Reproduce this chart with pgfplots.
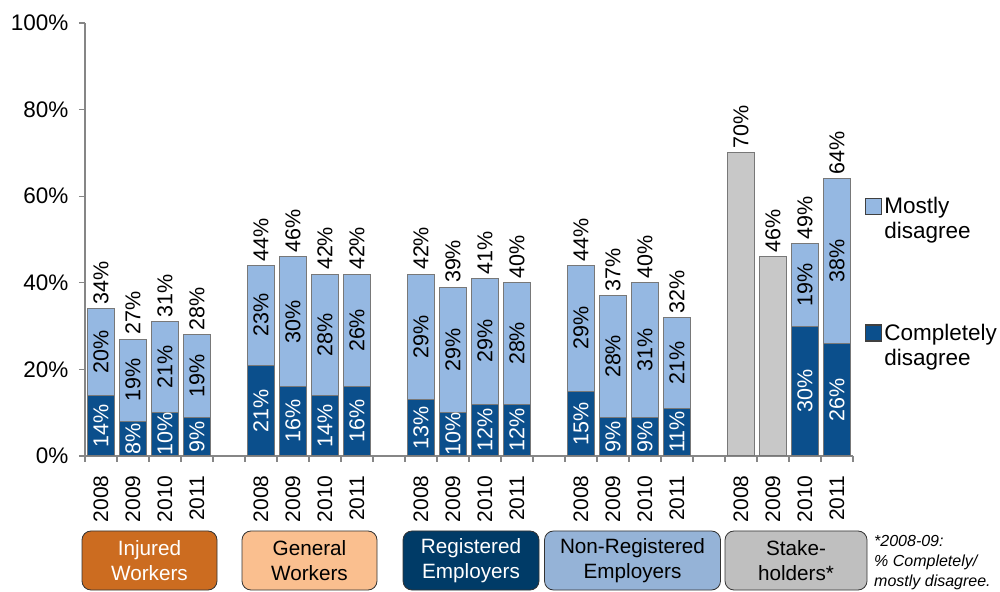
\documentclass[border=0pt]{standalone}
\usepackage{fontspec}
\setmainfont{Liberation Sans}
\usepackage{pgfplots}
\usepackage{pgfplotstable}
\pgfplotsset{compat=1.18}
\definecolor{darkbar}{RGB}{11,79,140}
\definecolor{lightbar}{RGB}{149,184,226}
\definecolor{graybar}{RGB}{200,200,200}
\definecolor{bordergray}{RGB}{120,120,120}
\definecolor{axisgray}{RGB}{134,134,134}
\definecolor{injured}{RGB}{204,108,32}
\definecolor{general}{RGB}{250,191,143}
\definecolor{registered}{RGB}{0,59,103}
\definecolor{nonreg}{RGB}{149,179,215}
\definecolor{stake}{RGB}{191,191,191}
\newcommand{\bigfont}{\fontsize{21}{26}\selectfont}
\newcommand{\tickfont}{\fontsize{22.5}{26}\selectfont}
\newcommand{\legfont}{\fontsize{22.5}{25}\selectfont}
\newcommand{\labfont}{\fontsize{21.5}{24}\selectfont}
\newcommand{\boxfont}{\fontsize{20.7}{24.5}\selectfont}
\newcommand{\notefont}{\fontsize{16}{20}\selectfont\itshape}

\pgfplotstableread{
x dark light
0 14 20
1 8 19
2 10 21
3 9 19
5 21 23
6 16 30
7 14 28
8 16 26
10 13 29
11 10 29
12 12 29
13 12 28
15 15 29
16 9 28
17 9 31
18 11 21
22 30 19
23 26 38
}\groups

\pgfplotstableread{
x total
20 70
21 46
}\stake

\begin{document}
\begin{tikzpicture}[x=1pt,y=1pt]
\useasboundingbox (0,0) rectangle (1000,591);
\begin{axis}[
  at={(85pt,135pt)}, anchor=south west,
  scale only axis, width=768pt, height=433pt,
  xmin=-0.5, xmax=23.5, ymin=0, ymax=100,
  clip=false,
  axis x line*=bottom, axis y line*=left,
  axis line style={draw=axisgray, line width=1.5pt, -},
  /pgf/number format/assume math mode=true,
  tick align=outside,
  major tick length=6pt, minor tick length=6pt,
  ytick={0,20,...,100},
  yticklabel={\pgfmathprintnumber{\tick}\%},
  y tick label style={font=\tickfont, xshift=-7pt},
  ytick style={draw=axisgray, line width=1.2pt},
  xtick={0,1,2,3,5,6,7,8,10,11,12,13,15,16,17,18,20,21,22,23},
  xticklabels={2008,2009,2010,2011,2008,2009,2010,2011,2008,2009,2010,2011,2008,2009,2010,2011,2008,2009,2010,2011},
  major x tick style={draw=none},
  minor xtick={-0.5,0.5,...,23.5},
  minor x tick style={draw=axisgray, line width=1.2pt},
  x tick label style={rotate=90, anchor=east, font=\bigfont, xshift=-10pt},
  legend style={at={(axis description cs:1,0.6)}, anchor=north west, draw=none, fill=none,
    xshift=12pt, yshift=2pt, row sep=91pt, font=\legfont, inner sep=0pt},
  legend cell align=left,
]
\addplot[ybar, bar width=0.85, bar shift=0pt, fill=lightbar, draw=bordergray, line width=1pt,
  legend image code/.code={\draw[fill=lightbar, draw=black!75, line width=1.2pt] (0pt,-2pt) rectangle (16pt,14pt);}]
  table[x=x, y expr=\thisrow{dark}+\thisrow{light}] {\groups};
\addlegendentry{\begin{tabular}{@{}l@{}}Mostly\\disagree\end{tabular}}
\addplot[ybar, bar width=0.85, bar shift=0pt, fill=darkbar, draw=bordergray, line width=1pt,
  legend image code/.code={\draw[fill=darkbar, draw=black!75, line width=1.2pt] (0pt,-2pt) rectangle (16pt,14pt);}]
  table[x=x, y=dark] {\groups};
\addlegendentry{\begin{tabular}{@{}l@{}}Completely\\disagree\end{tabular}}
\addplot[ybar, bar width=0.85, bar shift=0pt, fill=graybar, draw=bordergray, line width=1pt, forget plot]
  table[x=x, y=total] {\stake};
% labels
\addplot[draw=none, forget plot, point meta=explicit,
  nodes near coords={\pgfmathprintnumber{\pgfplotspointmeta}\%},
  nodes near coords style={rotate=90, anchor=center, text=white, font=\labfont, inner sep=0pt}]
  table[x=x, y expr=\thisrow{dark}/2, meta=dark] {\groups};
\addplot[draw=none, forget plot, point meta=explicit,
  nodes near coords={\pgfmathprintnumber{\pgfplotspointmeta}\%},
  nodes near coords style={rotate=90, anchor=center, text=black, font=\labfont, inner sep=0pt}]
  table[x=x, y expr=\thisrow{dark}+\thisrow{light}/2, meta=light] {\groups};
\addplot[draw=none, forget plot, point meta=y,
  nodes near coords={\pgfmathprintnumber{\pgfplotspointmeta}\%},
  nodes near coords style={rotate=90, anchor=west, text=black, font=\labfont, inner sep=4pt}]
  table[x=x, y expr=\thisrow{dark}+\thisrow{light}] {\groups};
\addplot[draw=none, forget plot, point meta=y,
  nodes near coords={\pgfmathprintnumber{\pgfplotspointmeta}\%},
  nodes near coords style={rotate=90, anchor=west, text=black, font=\labfont, inner sep=4pt}]
  table[x=x, y=total] {\stake};
\end{axis}
\tikzset{grp/.style={draw=black!80, line width=0.8pt, rounded corners=9pt, minimum height=59pt, align=center, font=\boxfont, inner sep=0pt}}
\node[grp, fill=injured, text=white, minimum width=135pt] at (149.5,30.5) {Injured\\Workers};
\node[grp, fill=general, text=black, minimum width=135pt] at (309.5,30.5) {General\\Workers};
\node[grp, fill=registered, text=white, minimum width=136pt] at (471,30.5) {Registered\\Employers};
\node[grp, fill=nonreg, text=black, minimum width=176pt] at (632.5,30.5) {Non-Registered\\Employers};
\node[grp, fill=stake, text=black, minimum width=142pt] at (796,30.5) {Stake-\\holders*};
\node[anchor=base west, inner sep=0pt, font=\notefont] at (874,44) {*2008-09:};
\node[anchor=base west, inner sep=0pt, font=\notefont] at (874,24.5) {\% Completely/};
\node[anchor=base west, inner sep=0pt, font=\notefont] at (874,5) {mostly disagree.};
\end{tikzpicture}
\end{document}
